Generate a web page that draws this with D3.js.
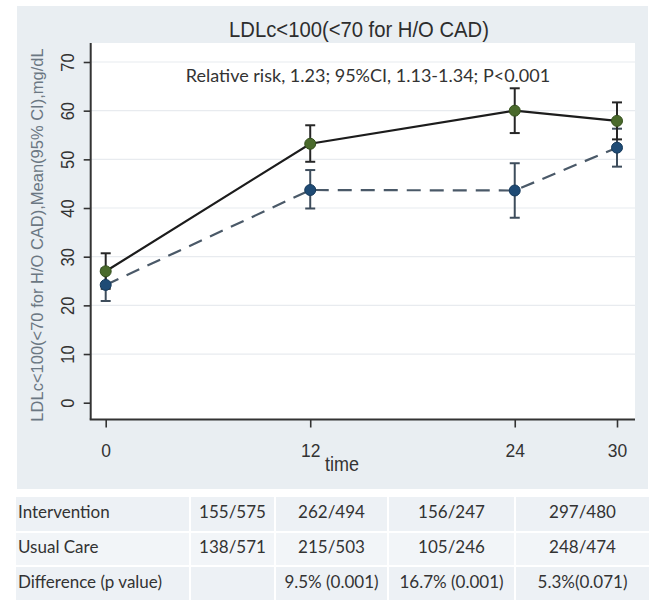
<!DOCTYPE html>
<html>
<head>
<meta charset="utf-8">
<script src="https://cdn.jsdelivr.net/npm/d3@7"></script>
<style>
  html, body { margin: 0; padding: 0; background: #ffffff; }
  svg { display: block; }
  .narrow { font-family: "Liberation Sans Narrow", "Arial Narrow", "Liberation Sans", Arial, sans-serif; }
  .calibri { font-family: Lato, "Open Sans", "Noto Sans", sans-serif; }
</style>
</head>
<body>
<svg id="chart" width="659" height="606"></svg>
<script>
// Follow-up months
const months = [0, 12, 24, 30];
const xTicks = [0, 12, 24, 30];
const yTicks = [0, 10, 20, 30, 40, 50, 60, 70];

// Percent reaching goal, mean and 95% CI
const interventionMean = [27.0, 53.2, 60.0, 57.9];
const interventionLo   = [23.4, 49.5, 55.4, 54.1];
const interventionHi   = [30.7, 57.0, 64.6, 61.7];

const usualMean = [24.2, 43.7, 43.6, 52.4];
const usualLo   = [20.9, 39.9, 38.0, 48.5];
const usualHi   = [27.6, 47.8, 49.2, 56.3];

// Counts table below the plot
const rowLabels = ["Intervention", "Usual Care", "Difference (p value)"];
const interventionCounts = ["155/575", "262/494", "156/247", "297/480"];
const usualCounts = ["138/571", "215/503", "105/246", "248/474"];
const differences = ["", "9.5% (0.001)", "16.7% (0.001)", "5.3%(0.071)"];

const titleText = "LDLc<100(<70 for H/O CAD)";
const noteText = "Relative risk, 1.23; 95%CI, 1.13-1.34; P<0.001";
const yLabel = "LDLc<100(<70 for H/O CAD),Mean(95% CI),mg/dL";
const xLabel = "time";

const svg = d3.select("#chart");

// Layout
const outer = { x0: 17, y0: 6, x1: 648, y1: 489 };
const plot = { x0: 90.7, y0: 43, x1: 635, y1: 419.5 };

const x = d3.scaleLinear().domain([0, 30]).range([105.7, 617]);
const y = d3.scaleLinear().domain([0, 70]).range([402.7, 62]);

// Graph region background
svg.append("rect")
  .attr("x", outer.x0).attr("y", outer.y0)
  .attr("width", outer.x1 - outer.x0).attr("height", outer.y1 - outer.y0)
  .attr("fill", "#e9eef2");

// Plot region
svg.append("rect")
  .attr("x", plot.x0).attr("y", plot.y0)
  .attr("width", plot.x1 - plot.x0).attr("height", plot.y1 - plot.y0)
  .attr("fill", "#ffffff");

// Gridlines
svg.append("g").selectAll("line").data(yTicks.filter(d => d > 0)).join("line")
  .attr("x1", plot.x0).attr("x2", plot.x1)
  .attr("y1", d => y(d)).attr("y2", d => y(d))
  .attr("stroke", "#e8ebef").attr("stroke-width", 1.2);

// Title (condensed look)
svg.append("text").attr("class", "narrow")
  .attr("transform", "translate(359,31) scale(0.9,1)")
  .attr("text-anchor", "middle").attr("dominant-baseline", "middle")
  .attr("font-size", 22.5).attr("fill", "#2d2d2d")
  .text(titleText);

// Y axis
const yAxis = svg.append("g")
  .attr("transform", `translate(${plot.x0},0)`)
  .call(d3.axisLeft(y).tickValues(yTicks).tickSize(7).tickSizeOuter(0).tickFormat(d3.format("d")));
yAxis.select(".domain").remove();
yAxis.selectAll(".tick line").attr("stroke", "#333").attr("stroke-width", 1.6);
yAxis.selectAll(".tick text")
  .attr("class", "narrow")
  .attr("font-size", 18).attr("fill", "#333")
  .attr("x", null).attr("dy", null)
  .attr("text-anchor", "middle")
  .attr("transform", "translate(-21,0) rotate(-90) scale(0.92,1)")
  .attr("dominant-baseline", "middle");
svg.append("line")
  .attr("x1", plot.x0).attr("x2", plot.x0)
  .attr("y1", plot.y0).attr("y2", plot.y1)
  .attr("stroke", "#333").attr("stroke-width", 2);

// X axis
const xAxis = svg.append("g")
  .attr("transform", `translate(0,${plot.y1})`)
  .call(d3.axisBottom(x).tickValues(xTicks).tickSize(8).tickSizeOuter(0).tickFormat(d3.format("d")));
xAxis.select(".domain").remove();
xAxis.selectAll(".tick line").attr("stroke", "#333").attr("stroke-width", 1.6);
xAxis.selectAll(".tick text")
  .attr("class", "narrow")
  .attr("font-size", 19).attr("fill", "#333")
  .attr("y", 32).attr("dy", null)
  .attr("transform", "scale(0.92,1)")
  .attr("dominant-baseline", "middle");
svg.append("line")
  .attr("x1", plot.x0 - 1).attr("x2", plot.x1)
  .attr("y1", plot.y1).attr("y2", plot.y1)
  .attr("stroke", "#333").attr("stroke-width", 2);

// Axis titles
svg.append("text").attr("class", "narrow")
  .attr("transform", "translate(342,466) scale(0.9,1)")
  .attr("text-anchor", "middle").attr("dominant-baseline", "middle")
  .attr("font-size", 20).attr("fill", "#333")
  .text(xLabel);

svg.append("text").attr("class", "narrow")
  .attr("transform", "translate(39,235) rotate(-90)")
  .attr("text-anchor", "middle").attr("dominant-baseline", "middle")
  .attr("font-size", 16.5).attr("fill", "#6b7782")
  .text(yLabel);

// Note
svg.append("text").attr("class", "calibri")
  .attr("x", 368).attr("y", 77)
  .attr("text-anchor", "middle").attr("dominant-baseline", "middle")
  .attr("font-size", 18).attr("fill", "#333")
  .text(noteText);

// Series
const series = [
  { mean: usualMean, lo: usualLo, hi: usualHi, line: "#4a5968", dash: "14,9", bar: "#3e4d5c", marker: "#1f4b75", markerStroke: "#163a5c" },
  { mean: interventionMean, lo: interventionLo, hi: interventionHi, line: "#1c1c1c", dash: null, bar: "#262626", marker: "#4a6a2c", markerStroke: "#34501c" }
];

const capHalf = 5;
series.forEach(s => {
  const g = svg.append("g");
  months.forEach((m, i) => {
    g.append("line")
      .attr("x1", x(m)).attr("x2", x(m))
      .attr("y1", y(s.lo[i])).attr("y2", y(s.hi[i]))
      .attr("stroke", s.bar).attr("stroke-width", 2);
    [s.lo[i], s.hi[i]].forEach(v => {
      g.append("line")
        .attr("x1", x(m) - capHalf).attr("x2", x(m) + capHalf)
        .attr("y1", y(v)).attr("y2", y(v))
        .attr("stroke", s.bar).attr("stroke-width", 2);
    });
  });
});

series.forEach(s => {
  const line = d3.line().x((d, i) => x(months[i])).y(d => y(d));
  svg.append("path")
    .datum(s.mean)
    .attr("d", line)
    .attr("fill", "none")
    .attr("stroke", s.line)
    .attr("stroke-width", 2.2)
    .attr("stroke-dasharray", s.dash);
});

series.forEach(s => {
  svg.append("g").selectAll("circle").data(s.mean).join("circle")
    .attr("cx", (d, i) => x(months[i]))
    .attr("cy", d => y(d))
    .attr("r", 5.5)
    .attr("fill", s.marker)
    .attr("stroke", s.markerStroke).attr("stroke-width", 1);
});

// Table
const colEdges = [15, 190, 275, 388, 515, 650];
const rowEdges = [496, 532, 566, 601];
const rows = [
  [rowLabels[0], ...interventionCounts],
  [rowLabels[1], ...usualCounts],
  [rowLabels[2], ...differences]
];

const table = svg.append("g");
table.append("rect")
  .attr("x", colEdges[0]).attr("y", outer.y1)
  .attr("width", colEdges[5] - colEdges[0]).attr("height", rowEdges[3] - outer.y1)
  .attr("fill", "#ffffff");

rows.forEach((r, ri) => {
  r.forEach((cell, ci) => {
    table.append("rect")
      .attr("x", colEdges[ci]).attr("y", rowEdges[ri])
      .attr("width", colEdges[ci + 1] - colEdges[ci])
      .attr("height", rowEdges[ri + 1] - rowEdges[ri])
      .attr("fill", ri % 2 === 0 ? "#edf1f5" : "#f2f5f8")
      .attr("stroke", "#ffffff").attr("stroke-width", 2);
    table.append("text").attr("class", "calibri")
      .attr("x", ci === 0 ? colEdges[0] + 3 : (colEdges[ci] + colEdges[ci + 1]) / 2)
      .attr("y", (rowEdges[ri] + rowEdges[ri + 1]) / 2)
      .attr("text-anchor", ci === 0 ? "start" : "middle")
      .attr("dominant-baseline", "middle")
      .attr("font-size", 17).attr("fill", "#333")
      .text(cell);
  });
});
</script>
</body>
</html>
